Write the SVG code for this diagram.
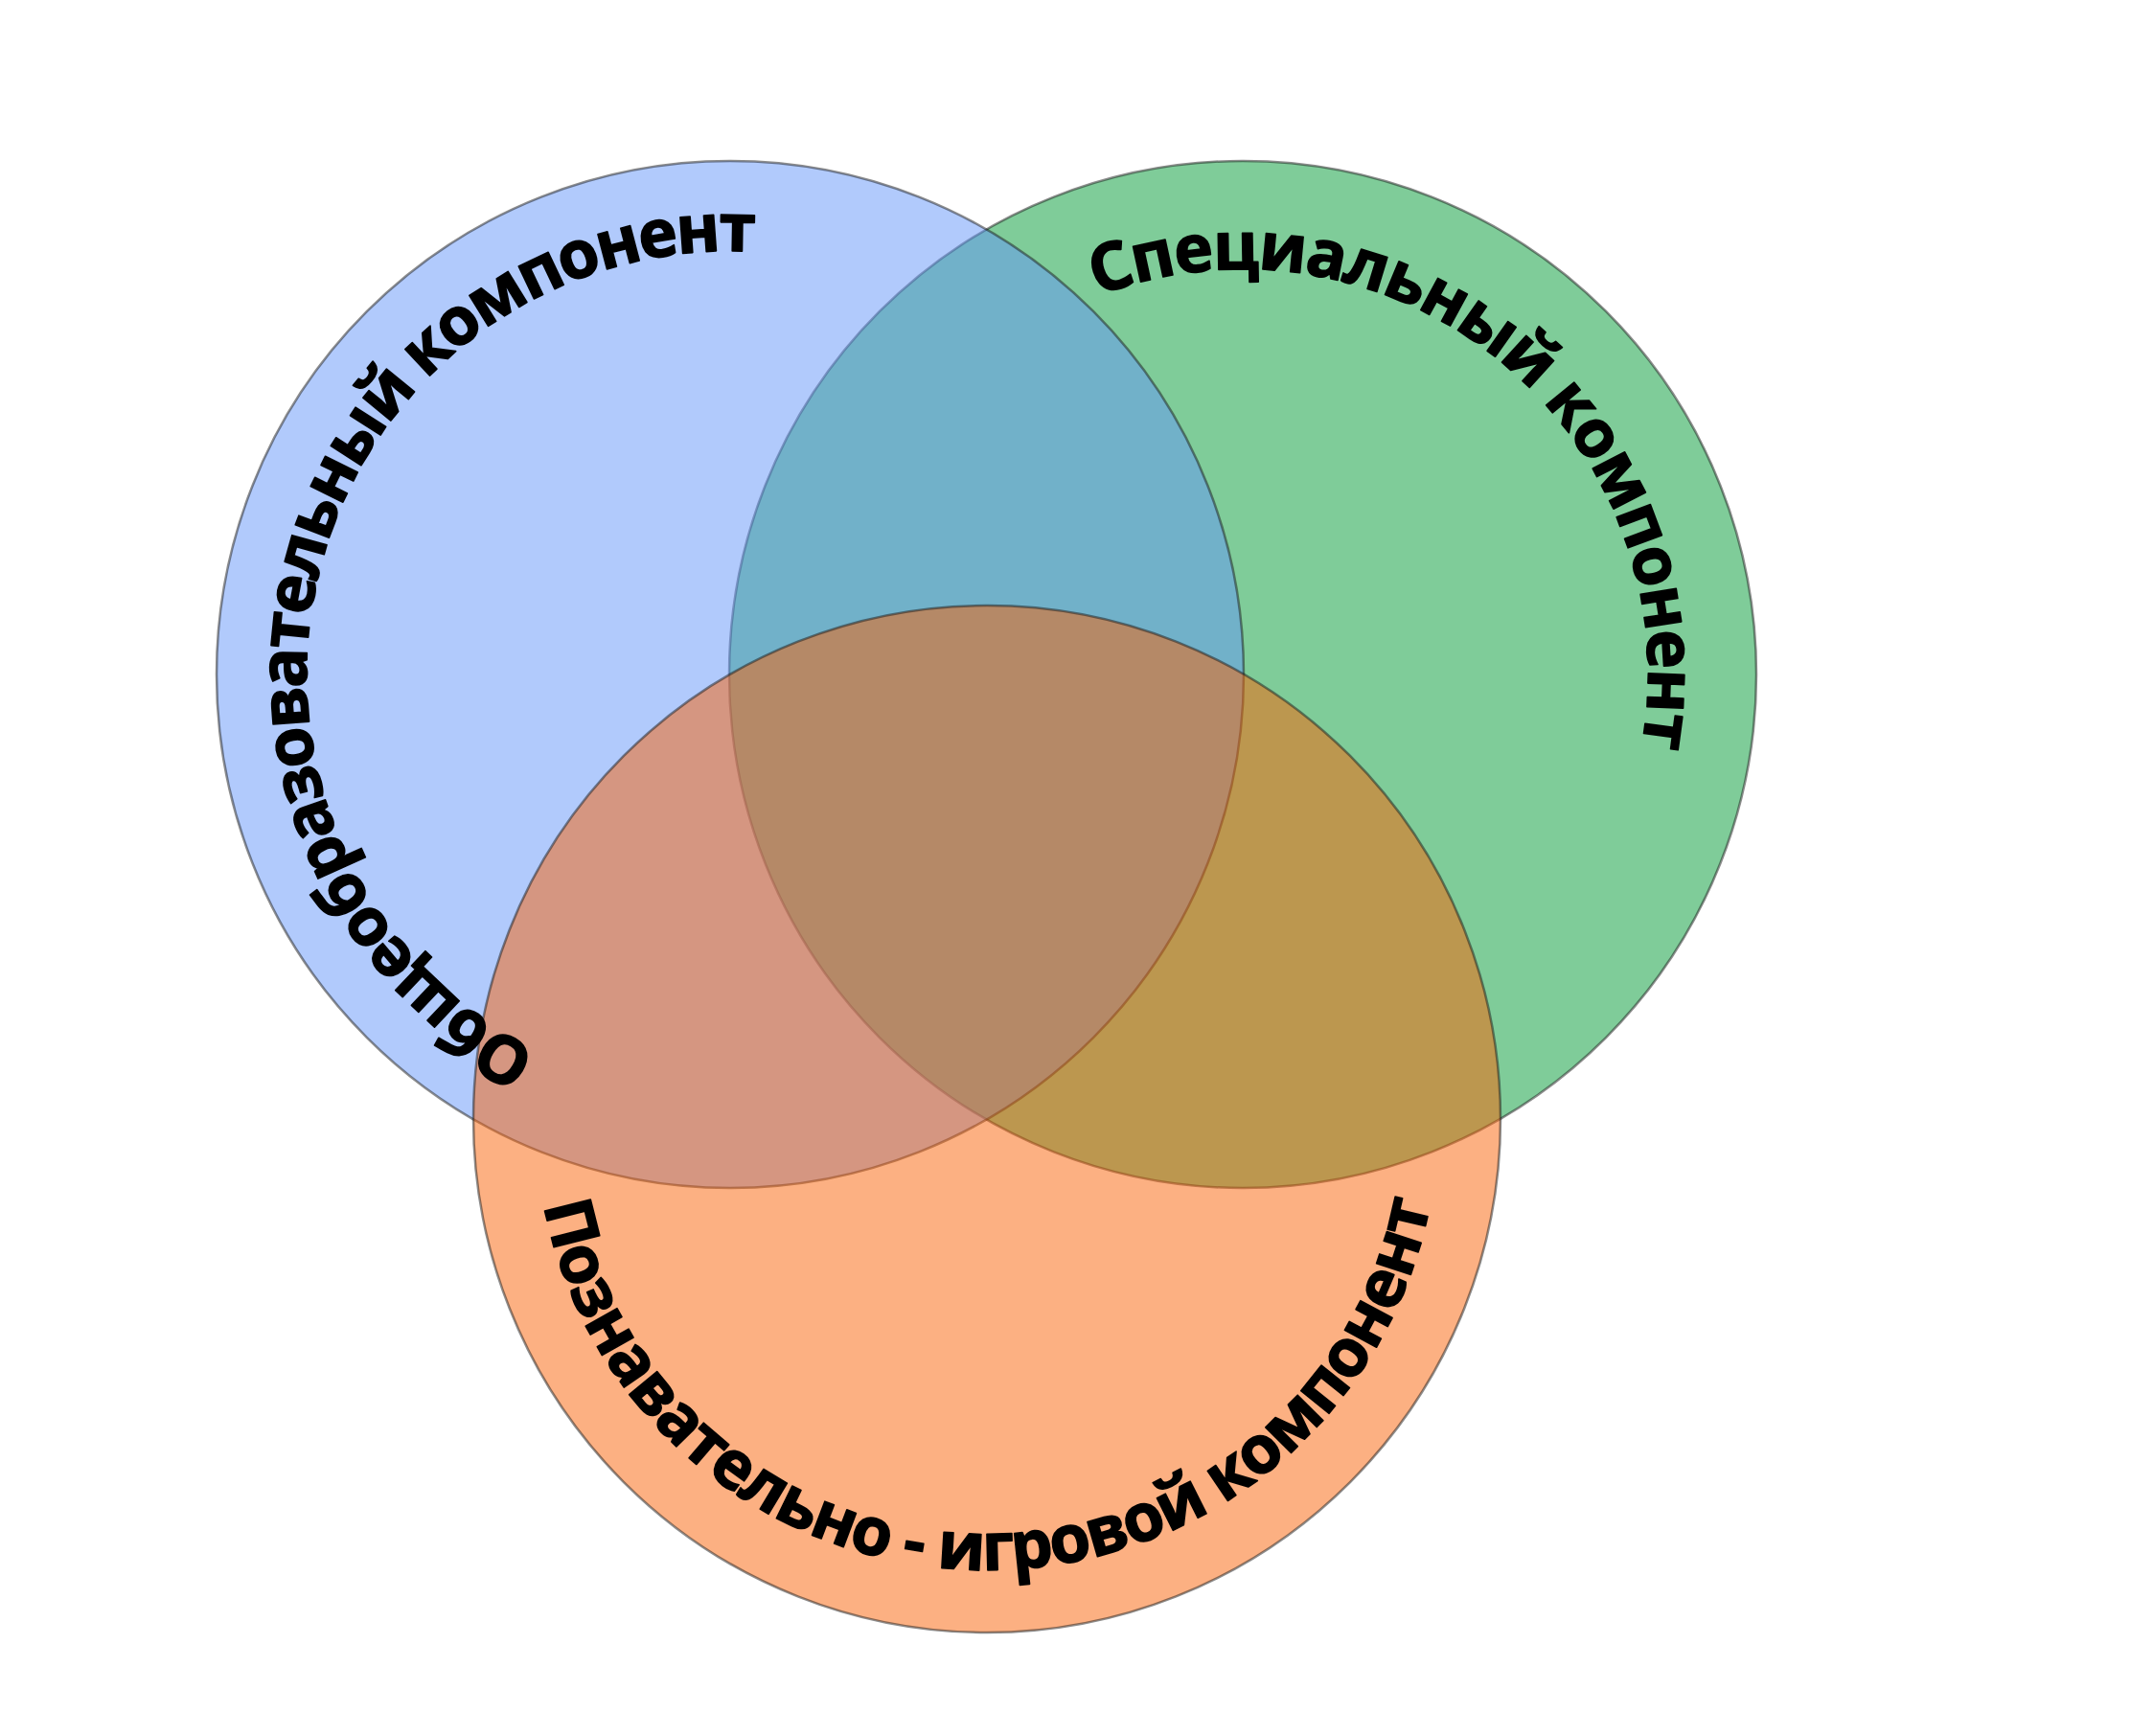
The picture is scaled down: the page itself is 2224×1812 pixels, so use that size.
<svg xmlns="http://www.w3.org/2000/svg" width="2224" height="1812" viewBox="0 0 2224 1812">
  <style>
    .set { fill-opacity: 0.5; stroke: #1a1a1a; stroke-opacity: 0.5; stroke-width: 2.5; }
    .lbl { font-family: "Open Sans", "DejaVu Sans", sans-serif; font-weight: 700; font-size: 69px; fill: #000; stroke: #000; stroke-width: 1.6; stroke-linejoin: round; }
  </style>
  <defs>
    <path id="pathBlue" d="M 561.3 1097.8 A 442 442 0 0 1 792.8 263.1" fill="none"/>
    <path id="pathGreen" d="M 1145.4 309.1 A 423 423 0 0 1 1712.8 781.8" fill="none"/>
    <path id="pathOrange" d="M 567.7 1257.9 A 471 471 0 0 0 1493.1 1253.8" fill="none"/>
  </defs>
  <rect width="2224" height="1812" fill="#ffffff"/>
  <g id="node-special">
    <circle class="set" cx="1297" cy="704" r="536" fill="#009933"/>
  </g>
  <g id="node-general">
    <circle class="set" cx="762" cy="704" r="536" fill="#6395F9"/>
  </g>
  <g id="node-cognitive">
    <circle class="set" cx="1030" cy="1168" r="536" fill="#FA6205"/>
  </g>
  <g id="labels">
    <text class="lbl"><textPath href="#pathBlue" textLength="1206" lengthAdjust="spacing">Общеобразовательный компонент</textPath></text>
    <text class="lbl"><textPath href="#pathGreen" textLength="895" lengthAdjust="spacing">Специальный компонент</textPath></text>
    <text class="lbl"><textPath href="#pathOrange" textLength="1300" lengthAdjust="spacing">Познавательно - игровой компонент</textPath></text>
  </g>
  <g id="connectors"></g>
</svg>
